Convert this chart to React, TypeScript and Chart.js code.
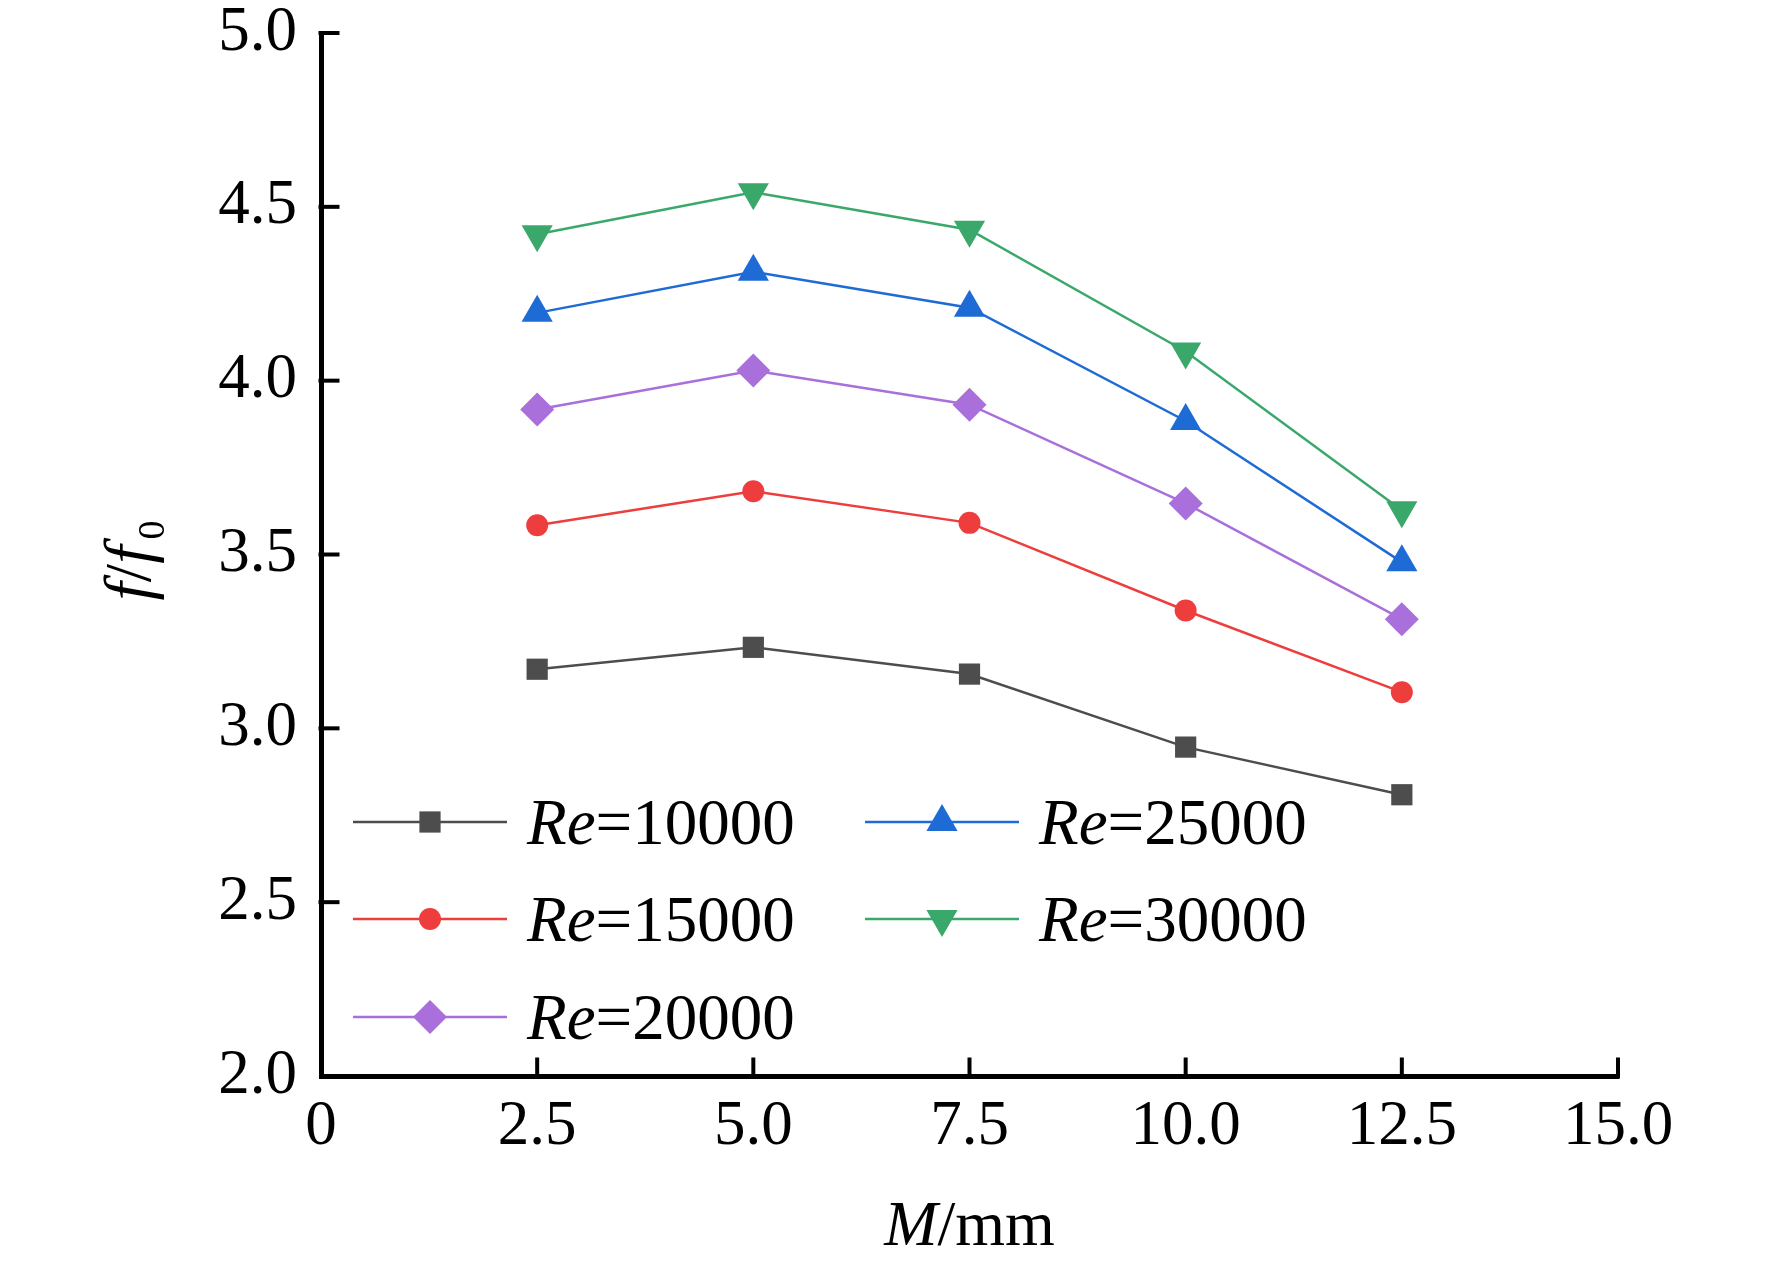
import React, { useEffect, useRef } from "react";
import { Chart, registerables } from "chart.js";
import { drawPoint } from "chart.js/helpers";

Chart.register(...registerables);

// M/mm positions of the measured points
const M_VALUES = [2.5, 5.0, 7.5, 10.0, 12.5];

// f/f0 for each Reynolds number
const RE_10000 = [3.17, 3.233, 3.156, 2.946, 2.809];
const RE_15000 = [3.584, 3.682, 3.591, 3.339, 3.104];
const RE_20000 = [3.917, 4.029, 3.931, 3.647, 3.314];
const RE_25000 = [4.195, 4.313, 4.21, 3.884, 3.478];
const RE_30000 = [4.421, 4.542, 4.434, 4.084, 3.627];

const RE_LABELS = ["10000", "15000", "20000", "25000", "30000"];

const X_TICKS = [0, 2.5, 5.0, 7.5, 10.0, 12.5, 15.0];
const Y_TICKS = [2.0, 2.5, 3.0, 3.5, 4.0, 4.5, 5.0];

const FONT = "Liberation Serif";

const toPoints = (ys: number[]) => M_VALUES.map((x, i) => ({ x, y: ys[i] }));

// inward ticks, axis titles with italics and the two-column legend
const decorPlugin = {
  id: "decor",
  afterDraw(chart: any) {
    const { ctx, chartArea, scales } = chart;
    const xs = scales.x;
    const ys = scales.y;
    ctx.save();

    // ticks pointing into the plot
    ctx.strokeStyle = "#000";
    ctx.lineWidth = 4;
    const axisY = chartArea.bottom + 2.5;
    const axisX = chartArea.left - 2.5;
    X_TICKS.forEach((v) => {
      if (v === 0) return;
      const px = xs.getPixelForValue(v);
      ctx.beginPath();
      ctx.moveTo(px, axisY);
      ctx.lineTo(px, axisY - 21);
      ctx.stroke();
    });
    Y_TICKS.forEach((v) => {
      if (v === 2.0) return;
      const py = ys.getPixelForValue(v);
      ctx.beginPath();
      ctx.moveTo(axisX, py);
      ctx.lineTo(axisX + 21, py);
      ctx.stroke();
    });

    // x title: M/mm
    ctx.fillStyle = "#000";
    ctx.textBaseline = "alphabetic";
    ctx.textAlign = "left";
    const xt1 = "M";
    const xt2 = "/mm";
    ctx.font = `italic 64px "${FONT}"`;
    const w1 = ctx.measureText(xt1).width;
    ctx.font = `64px "${FONT}"`;
    const w2 = ctx.measureText(xt2).width;
    const cx = (chartArea.left + chartArea.right) / 2;
    const tx = cx - (w1 + w2) / 2;
    ctx.font = `italic 64px "${FONT}"`;
    ctx.fillText(xt1, tx, 1245);
    ctx.font = `64px "${FONT}"`;
    ctx.fillText(xt2, tx + w1, 1245);

    // y title: f/f0, rotated
    ctx.save();
    ctx.translate(150, (chartArea.top + chartArea.bottom) / 2 + 6);
    ctx.rotate(-Math.PI / 2);
    const parts = [
      { t: "f", f: `italic 66px "${FONT}"`, dy: 0 },
      { t: "/", f: `66px "${FONT}"`, dy: 0 },
      { t: "f", f: `italic 66px "${FONT}"`, dy: 0 },
      { t: "0", f: `38px "${FONT}"`, dy: 14 },
    ];
    let total = 0;
    parts.forEach((p) => {
      ctx.font = p.f;
      total += ctx.measureText(p.t).width + (p.t === "0" ? 6 : 0);
    });
    let px = -total / 2;
    parts.forEach((p) => {
      ctx.font = p.f;
      if (p.t === "0") px += 6;
      ctx.fillText(p.t, px, p.dy);
      px += ctx.measureText(p.t).width;
    });
    ctx.restore();

    // legend
    const rows = [822, 919, 1017];
    const cols = [353, 865];
    chart.data.datasets.forEach((ds: any, i: number) => {
      const col = i < 3 ? 0 : 1;
      const row = i < 3 ? i : i - 3;
      const x0 = cols[col];
      const y0 = rows[row];
      ctx.strokeStyle = ds.borderColor;
      ctx.lineWidth = 2.5;
      ctx.beginPath();
      ctx.moveTo(x0, y0);
      ctx.lineTo(x0 + 154, y0);
      ctx.stroke();
      ctx.fillStyle = ds.borderColor;
      drawPoint(
        ctx,
        {
          pointStyle: ds.pointStyle,
          rotation: ds.pointRotation || 0,
          radius: ds.pointRadius,
          borderWidth: 0,
        },
        x0 + 77,
        y0
      );
      ctx.fillStyle = "#000";
      ctx.font = `italic 65px "${FONT}"`;
      ctx.fillText("Re", x0 + 174, y0 + 22);
      const rw = ctx.measureText("Re").width;
      ctx.font = `65px "${FONT}"`;
      ctx.fillText("=" + RE_LABELS[i], x0 + 174 + rw, y0 + 22);
    });

    ctx.restore();
  },
};

const App = () => {
  const canvasRef = useRef<HTMLCanvasElement>(null);
  const chartRef = useRef<Chart | null>(null);

  useEffect(() => {
    const canvas = canvasRef.current;
    if (chartRef.current) {
      chartRef.current.destroy();
    }
    if (!canvas) return;

    const series = [
      { ys: RE_10000, color: "#4d4d4d", style: "rect", r: 15, rot: 0 },
      { ys: RE_15000, color: "#ee3d3d", style: "circle", r: 11, rot: 0 },
      { ys: RE_20000, color: "#a96fda", style: "rectRot", r: 17, rot: 0 },
      { ys: RE_25000, color: "#1e6bd6", style: "triangle", r: 18, rot: 0 },
      { ys: RE_30000, color: "#3aa86b", style: "triangle", r: 18, rot: 180 },
    ];

    chartRef.current = new Chart(canvas, {
      type: "line",
      data: {
        datasets: series.map((s, i) => ({
          label: "Re=" + RE_LABELS[i],
          data: toPoints(s.ys),
          borderColor: s.color,
          backgroundColor: s.color,
          borderWidth: 2.5,
          pointStyle: s.style,
          pointRadius: s.r,
          pointRotation: s.rot,
          pointBorderWidth: 0,
          pointBackgroundColor: s.color,
          tension: 0,
          fill: false,
        })),
      },
      options: {
        animation: false,
        responsive: true,
        maintainAspectRatio: false,
        layout: {
          padding: { top: 33, right: 154, left: 0, bottom: 0 },
        },
        plugins: {
          legend: { display: false },
          tooltip: { enabled: false },
        },
        scales: {
          x: {
            type: "linear",
            min: 0,
            max: 15,
            afterFit: (scale: any) => {
              scale.height = 190;
              scale.paddingLeft = 0;
              scale.paddingRight = 0;
            },
            afterBuildTicks: (scale: any) => {
              scale.ticks = X_TICKS.map((v) => ({ value: v }));
            },
            grid: { display: false, drawTicks: false },
            border: { display: true, color: "#000", width: 5 },
            ticks: {
              color: "#000",
              padding: 14,
              maxRotation: 0,
              font: { family: FONT, size: 63 },
              callback: (v: any) => (v === 0 ? "0" : Number(v).toFixed(1)),
            },
          },
          y: {
            type: "linear",
            min: 2,
            max: 5,
            afterFit: (scale: any) => {
              scale.width = 321;
              scale.paddingTop = 0;
              scale.paddingBottom = 0;
            },
            afterBuildTicks: (scale: any) => {
              scale.ticks = Y_TICKS.map((v) => ({ value: v }));
            },
            grid: { display: false, drawTicks: false },
            border: { display: true, color: "#000", width: 5 },
            ticks: {
              color: "#000",
              padding: 24,
              font: { family: FONT, size: 63 },
              callback: (v: any) => Number(v).toFixed(1),
            },
          },
        },
      },
      plugins: [decorPlugin],
    });

    return () => {
      if (chartRef.current) {
        chartRef.current.destroy();
        chartRef.current = null;
      }
    };
  }, []);

  return (
    <div
      style={{
        position: "absolute",
        left: 0,
        top: 0,
        width: 1772,
        height: 1266,
        background: "#fff",
      }}
    >
      <canvas ref={canvasRef} />
    </div>
  );
};

export default App;
